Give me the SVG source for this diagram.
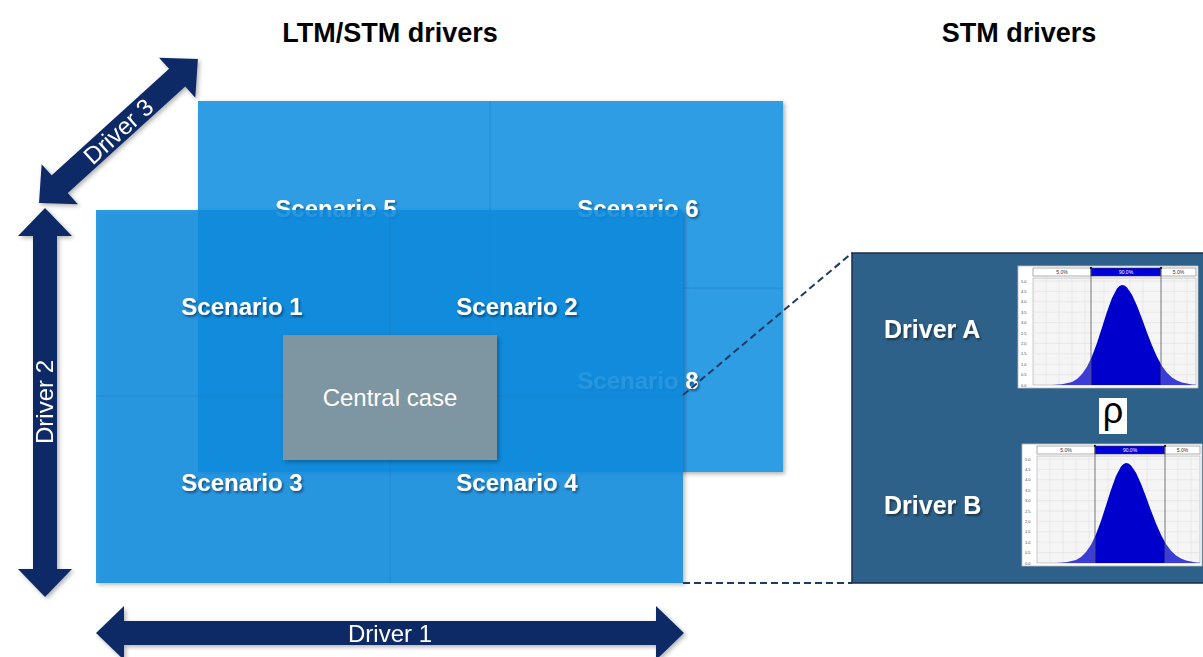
<svg xmlns="http://www.w3.org/2000/svg" xmlns:xlink="http://www.w3.org/1999/xlink" width="1203" height="657" viewBox="0 0 1203 657">
<style>
.title{font-family:"Liberation Sans",Arial,sans-serif;font-weight:bold;font-size:27px;fill:#000;text-anchor:middle}
.scen{font-family:"Liberation Sans",Arial,sans-serif;font-weight:bold;font-size:24px;fill:#fff;text-anchor:middle}
.drv{font-family:"Liberation Sans",Arial,sans-serif;font-size:24px;fill:#fff;text-anchor:middle}
.drvb{font-family:"Liberation Sans",Arial,sans-serif;font-weight:bold;font-size:25px;fill:#fff}
.arrow{fill:#0F2C66}
.gl{stroke:#1F7FC4;stroke-width:1;stroke-opacity:0.6}
.dash{stroke:#1E3A66;stroke-width:2;stroke-dasharray:7 4;fill:none}
.ax{font-family:"Liberation Sans",Arial,sans-serif;font-size:4px;fill:#444}
.band{font-family:"Liberation Sans",Arial,sans-serif;font-size:5px;text-anchor:middle}
</style>
<defs>
<filter id="ts" x="-10%" y="-30%" width="130%" height="170%">
<feDropShadow dx="1.5" dy="2" stdDeviation="1.2" flood-color="#000" flood-opacity="0.45"/>
</filter>
<filter id="bs" x="-5%" y="-5%" width="115%" height="115%">
<feDropShadow dx="2" dy="2" stdDeviation="2" flood-color="#000" flood-opacity="0.3"/>
</filter>
<g id="chartTpl">
<rect x="0" y="0" width="180" height="122" fill="#fff" stroke="#bbb" stroke-width="0.8"/>
<rect x="15" y="12" width="163" height="107" fill="#F5F5F5" stroke="#999" stroke-width="0.5"/>
<g stroke="#DDDDDD" stroke-width="0.5">
<line x1="28" y1="12" x2="28" y2="119"/><line x1="41" y1="12" x2="41" y2="119"/><line x1="54" y1="12" x2="54" y2="119"/>
<line x1="67" y1="12" x2="67" y2="119"/><line x1="86" y1="12" x2="86" y2="119"/><line x1="99" y1="12" x2="99" y2="119"/>
<line x1="112" y1="12" x2="112" y2="119"/><line x1="125" y1="12" x2="125" y2="119"/><line x1="156" y1="12" x2="156" y2="119"/>
<line x1="169" y1="12" x2="169" y2="119"/>
<line x1="15" y1="108.6" x2="178" y2="108.6"/><line x1="15" y1="98.2" x2="178" y2="98.2"/><line x1="15" y1="87.8" x2="178" y2="87.8"/>
<line x1="15" y1="77.4" x2="178" y2="77.4"/><line x1="15" y1="67" x2="178" y2="67"/><line x1="15" y1="56.6" x2="178" y2="56.6"/>
<line x1="15" y1="46.2" x2="178" y2="46.2"/><line x1="15" y1="35.8" x2="178" y2="35.8"/><line x1="15" y1="25.4" x2="178" y2="25.4"/>
<line x1="15" y1="15" x2="178" y2="15"/>
</g>
<g class="ax">
<text x="3" y="120.5">0.0</text><text x="3" y="110.1">0.5</text><text x="3" y="99.7">1.0</text><text x="3" y="89.3">1.5</text>
<text x="3" y="78.9">2.0</text><text x="3" y="68.5">2.5</text><text x="3" y="58.1">3.0</text><text x="3" y="47.7">3.5</text>
<text x="3" y="37.3">4.0</text><text x="3" y="26.9">4.5</text><text x="3" y="16.5">5.0</text>
</g>
<rect x="15" y="2" width="58" height="8" fill="#fff" stroke="#777" stroke-width="0.6"/>
<rect x="73" y="2" width="70" height="8" fill="#0000DD" stroke="#333" stroke-width="0.6"/>
<rect x="143" y="2" width="35" height="8" fill="#fff" stroke="#777" stroke-width="0.6"/>
<text class="band" x="44" y="8" fill="#333">5.0%</text>
<text class="band" x="108" y="8" fill="#fff">90.0%</text>
<text class="band" x="160.5" y="8" fill="#333">5.0%</text>
<path d="M15,119 L34,119 L44,118.3 L54,115.9 L59,113 L64,108.1 L69,100.7 L73,92.6 L73,119 Z" fill="#3C3CD6"/>
<path d="M73,119 L73,92.6 L74,90.3 L79,76.9 L84,61.5 L89,45.8 L94,31.9 L99,22.4 L101.5,20 L104,19 L106.5,19.6 L109,21.5 L114,28.8 L119,39.7 L124,52.8 L129,66.6 L134,79.5 L139,90.8 L143,98.2 L143,119 Z" fill="#0000CC"/>
<path d="M143,119 L143,98.2 L144,99.9 L149,106.7 L154,111.4 L159,114.6 L164,116.6 L174,118.4 L178,118.8 L178,119 Z" fill="#3C3CD6"/>
<line x1="73" y1="2" x2="73" y2="119" stroke="#555" stroke-width="0.8"/>
<line x1="143" y1="2" x2="143" y2="119" stroke="#555" stroke-width="0.8"/>
<circle cx="73" cy="2" r="1.2" fill="#222"/><circle cx="143" cy="2" r="1.2" fill="#222"/>
</g>
</defs>
<rect x="0" y="0" width="1203" height="657" fill="#fff"/>

<text class="title" x="390" y="42">LTM/STM drivers</text>
<text class="title" x="1019" y="42">STM drivers</text>

<g id="back-layer">
<rect x="198" y="101" width="585" height="371" fill="#2F9DE4" filter="url(#bs)"/>
<line class="gl" x1="490" y1="101" x2="490" y2="472"/>
<line class="gl" x1="198" y1="288" x2="783" y2="288"/>
</g>
<g id="scenario5"><text class="scen" x="336" y="217" filter="url(#ts)">Scenario 5</text></g>
<g id="scenario6"><text class="scen" x="638" y="217" filter="url(#ts)">Scenario 6</text></g>
<g id="scenario8"><text class="scen" x="638" y="389" filter="url(#ts)">Scenario 8</text></g>

<g id="front-layer">
<rect x="96" y="210" width="587" height="373" fill="#0A8CDF" fill-opacity="0.86" filter="url(#bs)"/>
<line class="gl" x1="390" y1="210" x2="390" y2="583"/>
<line class="gl" x1="96" y1="396" x2="683" y2="396"/>
</g>
<g id="scenario1"><text class="scen" x="242" y="315" filter="url(#ts)">Scenario 1</text></g>
<g id="scenario2"><text class="scen" x="517" y="315" filter="url(#ts)">Scenario 2</text></g>
<g id="scenario3"><text class="scen" x="242" y="491" filter="url(#ts)">Scenario 3</text></g>
<g id="scenario4"><text class="scen" x="517" y="491" filter="url(#ts)">Scenario 4</text></g>

<g id="central-case">
<rect x="283" y="335" width="214" height="125" fill="#7E95A2" filter="url(#bs)"/>
<text class="drv" x="390" y="406">Central case</text>
</g>

<g id="connectors">
<line class="dash" x1="683" y1="395" x2="852" y2="253"/>
<line class="dash" x1="683" y1="583" x2="852" y2="583"/>
</g>

<g id="stm-panel">
<rect x="852" y="253" width="352" height="330" fill="#2E6189" stroke="#1A2E48" stroke-width="1.5"/>
<text class="drvb" x="884" y="338" filter="url(#ts)">Driver A</text>
<text class="drvb" x="884" y="514" filter="url(#ts)">Driver B</text>
<use xlink:href="#chartTpl" href="#chartTpl" transform="translate(1018,266)"/>
<use xlink:href="#chartTpl" href="#chartTpl" transform="translate(1022,444)"/>
<rect x="1099" y="398" width="28" height="36" fill="#fff"/>
<text x="1113" y="423" font-family="Liberation Sans, Arial, sans-serif" font-size="36" text-anchor="middle" fill="#000">ρ</text>
</g>

<g id="driver1" filter="url(#bs)">
<path class="arrow" transform="translate(96,633)" d="M0,0 L28,-27 L28,-12 L560,-12 L560,-27 L588,0 L560,27 L560,12 L28,12 L28,27 Z"/>
<text class="drv" x="390" y="642">Driver 1</text>
</g>
<g id="driver2" filter="url(#bs)">
<path class="arrow" transform="translate(45,208) rotate(90)" d="M0,0 L28,-27 L28,-12 L361,-12 L361,-27 L389,0 L361,27 L361,12 L28,12 L28,27 Z"/>
<text class="drv" transform="translate(53,402) rotate(-90)" x="0" y="0">Driver 2</text>
</g>
<g id="driver3" filter="url(#bs)">
<g transform="translate(39,203) rotate(-42.2)">
<path class="arrow" d="M0,0 L28,-27 L28,-12 L186.5,-12 L186.5,-27 L214.5,0 L186.5,27 L186.5,12 L28,12 L28,27 Z"/>
<text class="drv" x="107" y="8.5">Driver 3</text>
</g>
</g>
</svg>
